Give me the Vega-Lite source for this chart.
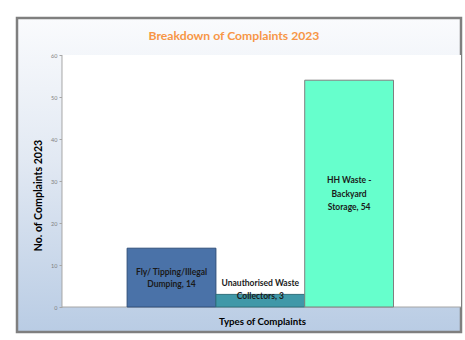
{
  "$schema": "https://vega.github.io/schema/vega-lite/v6.json",
  "width": 444,
  "height": 314,
  "autosize": {"type": "none"},
  "padding": {"left": 17, "top": 18, "right": 4, "bottom": 8},
  "background": "white",
  "title": {
    "text": "Breakdown of Complaints 2023",
    "color": "#F79646",
    "font": "Lato",
    "fontSize": 12.2,
    "fontWeight": "bold",
    "anchor": "middle",
    "frame": "group",
    "baseline": "alphabetic",
    "offset": -34,
    "dx": -5
  },
  "view": {
    "fill": {
      "gradient": "linear",
      "x1": 0, "y1": 0, "x2": 0, "y2": 1,
      "stops": [
        {"offset": 0, "color": "#FAFBFD"},
        {"offset": 0.45, "color": "#E2E9F3"},
        {"offset": 1, "color": "#B9CCE4"}
      ]
    },
    "stroke": "#7F7F7F",
    "strokeWidth": 2.5
  },
  "data": {
    "values": [
      {"category": "Fly/ Tipping/Illegal Dumping", "count": 14, "label": ["Fly/ Tipping/Illegal", "Dumping, 14"]},
      {"category": "Unauthorised Waste Collectors", "count": 3, "label": ["Unauthorised Waste", "Collectors, 3"]},
      {"category": "HH Waste - Backyard Storage", "count": 54, "label": ["HH Waste -", "Backyard", "Storage, 54"]}
    ]
  },
  "layer": [
    {
      "data": {"values": [{}]},
      "mark": {"type": "rect", "fill": "white", "strokeWidth": 0},
      "encoding": {
        "x": {"datum": 0, "type": "quantitative", "scale": {"domain": [-0.11278, 1], "nice": false, "zero": false}, "axis": null},
        "x2": {"datum": 1},
        "y": {
          "datum": 0,
          "type": "quantitative",
          "scale": {"domain": [-5.952, 68.81], "nice": false, "zero": false},
          "axis": {
            "orient": "left",
            "offset": -45,
            "values": [0, 10, 20, 30, 40, 50, 60],
            "domain": false,
            "grid": false,
            "tickSize": 3,
            "tickColor": "#A6A6A6",
            "labelFont": "Lato",
            "labelFontSize": 5.5,
            "labelColor": "#7F7F7F",
            "labelPadding": 2,
            "title": "No. of Complaints 2023",
            "titleFont": "Lato",
            "titleFontSize": 10.6,
            "titleFontWeight": "bold",
            "titleColor": "#000000",
            "titlePadding": 7,
            "titleY": 177
          }
        },
        "y2": {"datum": 60}
      }
    },
    {
      "data": {"values": [{}]},
      "mark": {"type": "rule", "color": "#A6A6A6", "strokeWidth": 1},
      "encoding": {
        "x": {"datum": 0, "type": "quantitative", "scale": {"domain": [-0.11278, 1], "nice": false, "zero": false}, "axis": null},
        "y": {"datum": 0, "type": "quantitative", "scale": {"domain": [-5.952, 68.81], "nice": false, "zero": false}, "axis": null},
        "y2": {"datum": 60}
      }
    },
    {
      "data": {"values": [{}]},
      "mark": {"type": "rule", "color": "#A6A6A6", "strokeWidth": 1},
      "encoding": {
        "x": {"datum": 0, "type": "quantitative", "scale": {"domain": [-0.11278, 1], "nice": false, "zero": false}, "axis": null},
        "x2": {"datum": 1},
        "y": {"datum": 0, "type": "quantitative", "scale": {"domain": [-5.952, 68.81], "nice": false, "zero": false}, "axis": null}
      }
    },
    {
      "mark": {"type": "bar", "strokeWidth": 1},
      "encoding": {
        "x": {
          "field": "category",
          "type": "nominal",
          "sort": null,
          "scale": {"type": "band", "paddingInner": 0, "paddingOuter": 1.008, "align": 0.62},
          "axis": {
            "orient": "bottom",
            "offset": -25,
            "domain": false,
            "ticks": false,
            "labels": false,
            "grid": false,
            "title": "Types of Complaints",
            "titleFont": "Lato",
            "titleFontSize": 9.7,
            "titleFontWeight": "bold",
            "titleColor": "#000000",
            "titlePadding": 9,
            "titleX": 245
          }
        },
        "y": {"field": "count", "type": "quantitative", "scale": {"domain": [-5.952, 68.81], "nice": false, "zero": false}, "axis": null},
        "y2": {"datum": 0},
        "fill": {
          "field": "category",
          "type": "nominal",
          "sort": null,
          "scale": {"domain": ["Fly/ Tipping/Illegal Dumping", "Unauthorised Waste Collectors", "HH Waste - Backyard Storage"], "range": ["#4A72A8", "#3F98A8", "#66FFCC"]},
          "legend": null
        },
        "stroke": {
          "field": "category",
          "type": "nominal",
          "sort": null,
          "scale": {"domain": ["Fly/ Tipping/Illegal Dumping", "Unauthorised Waste Collectors", "HH Waste - Backyard Storage"], "range": ["#2F4F7A", "#2E6F7C", "#7F7F7F"]},
          "legend": null
        }
      }
    },
    {
      "transform": [{"filter": "datum.category === 'Fly/ Tipping/Illegal Dumping'"}],
      "mark": {"type": "text", "font": "Lato", "fontSize": 8.5, "fontWeight": "bold", "color": "#1A1A1A", "baseline": "middle", "align": "center", "lineHeight": 12, "dy": -6},
      "encoding": {
        "x": {
          "field": "category",
          "type": "nominal",
          "sort": null,
          "scale": {"type": "band", "domain": ["Fly/ Tipping/Illegal Dumping", "Unauthorised Waste Collectors", "HH Waste - Backyard Storage"], "paddingInner": 0, "paddingOuter": 1.008, "align": 0.62},
          "axis": null
        },
        "y": {"field": "count", "type": "quantitative", "scale": {"domain": [-11.904, 137.62], "nice": false, "zero": false}, "axis": null},
        "text": {"field": "label"}
      }
    },
    {
      "transform": [{"filter": "datum.category === 'HH Waste - Backyard Storage'"}],
      "mark": {"type": "text", "font": "Lato", "fontSize": 8.5, "fontWeight": "bold", "color": "#1A1A1A", "baseline": "middle", "align": "center", "lineHeight": 13.5, "dy": -13.5},
      "encoding": {
        "x": {
          "field": "category",
          "type": "nominal",
          "sort": null,
          "scale": {"type": "band", "domain": ["Fly/ Tipping/Illegal Dumping", "Unauthorised Waste Collectors", "HH Waste - Backyard Storage"], "paddingInner": 0, "paddingOuter": 1.008, "align": 0.62},
          "axis": null
        },
        "y": {"field": "count", "type": "quantitative", "scale": {"domain": [-11.904, 137.62], "nice": false, "zero": false}, "axis": null},
        "text": {"field": "label"}
      }
    },
    {
      "transform": [{"filter": "datum.category === 'Unauthorised Waste Collectors'"}],
      "mark": {"type": "text", "font": "Lato", "fontSize": 8.5, "fontWeight": "bold", "color": "#1A1A1A", "baseline": "middle", "align": "center", "lineHeight": 13, "dy": -11},
      "encoding": {
        "x": {
          "field": "category",
          "type": "nominal",
          "sort": null,
          "scale": {"type": "band", "domain": ["Fly/ Tipping/Illegal Dumping", "Unauthorised Waste Collectors", "HH Waste - Backyard Storage"], "paddingInner": 0, "paddingOuter": 1.008, "align": 0.62},
          "axis": null
        },
        "y": {"field": "count", "type": "quantitative", "scale": {"domain": [-5.952, 68.81], "nice": false, "zero": false}, "axis": null},
        "text": {"field": "label"}
      }
    }
  ],
  "resolve": {"scale": {"x": "independent", "y": "independent", "fill": "independent", "stroke": "independent"}}
}
